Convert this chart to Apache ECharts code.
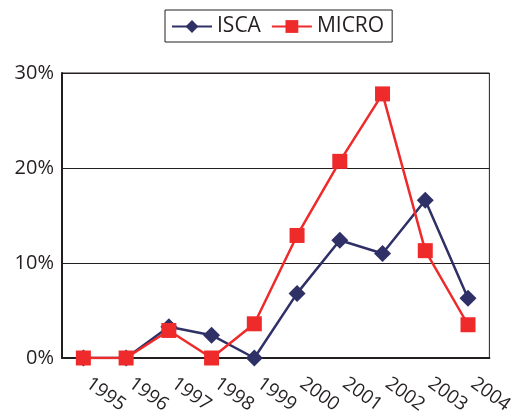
<!DOCTYPE html>
<html>
<head>
<meta charset="utf-8">
<script src="https://cdn.jsdelivr.net/npm/echarts@6/dist/echarts.min.js"></script>
<style>
  html, body { margin: 0; padding: 0; background: #fff; }
  #chart { width: 516px; height: 418px; }
</style>
</head>
<body>
<div id="chart"></div>
<script>
const years = ['1995', '1996', '1997', '1998', '1999', '2000', '2001', '2002', '2003', '2004']
const isca = [0, 0, 3.3, 2.4, 0, 6.8, 12.4, 11.0, 16.6, 6.3]
const micro = [0, 0, 2.9, 0, 3.6, 12.9, 20.7, 27.8, 11.3, 3.5]

const textColor = '#231f20'
const font = '"Open Sans", "DejaVu Sans", sans-serif'

const chart = echarts.init(document.getElementById('chart'))
chart.setOption({
  animation: false,
  textStyle: { fontFamily: font },
  legend: {
    top: 10,
    left: 165,
    data: ['ISCA', 'MICRO'],
    itemWidth: 40,
    itemHeight: 16,
    itemGap: 10,
    padding: [6, 8, 5, 6],
    borderColor: textColor,
    borderWidth: 1,
    textStyle: { fontSize: 21, color: textColor, fontFamily: font }
  },
  grid: {
    left: 62,
    right: 26,
    top: 73,
    bottom: 60,
    show: true,
    borderColor: textColor,
    borderWidth: 1
  },
  xAxis: {
    type: 'category',
    data: years,
    boundaryGap: true,
    axisLine: { lineStyle: { color: textColor, width: 2 } },
    axisTick: { inside: true, length: 6, lineStyle: { color: textColor } },
    axisLabel: {
      rotate: -36,
      margin: 20,
      padding: [0, 0, 0, 6],
      fontSize: 19,
      color: textColor,
      fontFamily: font
    }
  },
  yAxis: {
    type: 'value',
    min: 0,
    max: 30,
    interval: 10,
    axisLine: { show: true, lineStyle: { color: textColor, width: 2 } },
    axisTick: { show: false },
    splitLine: { lineStyle: { color: textColor, width: 1 } },
    axisLabel: {
      formatter: '{value}%',
      fontSize: 20,
      color: textColor,
      margin: 8,
      fontFamily: font
    }
  },
  series: [{
    name: 'ISCA',
    type: 'line',
    data: isca,
    symbol: 'diamond',
    symbolSize: 17,
    z: 2,
    itemStyle: { color: '#2e3066' },
    lineStyle: { color: '#2e3066', width: 2.5 }
  }, {
    name: 'MICRO',
    type: 'line',
    data: micro,
    symbol: 'rect',
    symbolSize: 15,
    z: 3,
    itemStyle: { color: '#ee2a2a' },
    lineStyle: { color: '#ee2a2a', width: 2.5 }
  }]
})
</script>
</body>
</html>
